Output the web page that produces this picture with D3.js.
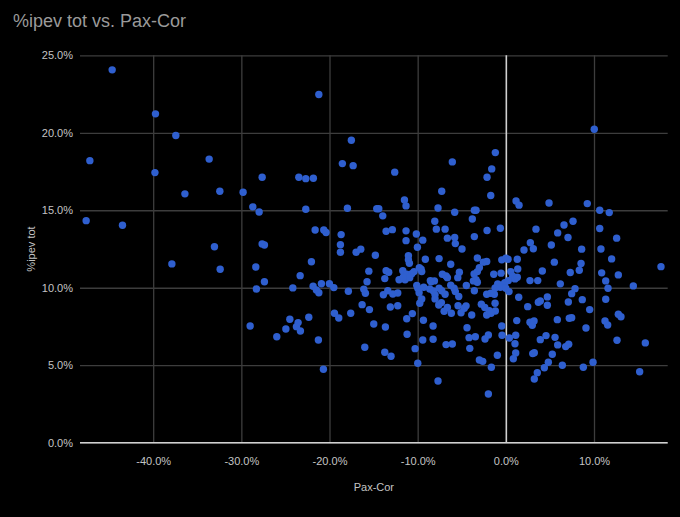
<!DOCTYPE html>
<html>
<head>
<meta charset="utf-8">
<script src="https://cdn.jsdelivr.net/npm/d3@7/dist/d3.min.js"></script>
<style>
html,body{margin:0;padding:0;background:#000;}
svg{display:block;font-family:"Liberation Sans",Arial,sans-serif;}
</style>
</head>
<body>
<svg id="chart" width="680" height="517"></svg>
<script>
const title = "%ipev tot vs. Pax-Cor";
const xTitle = "Pax-Cor";
const yTitle = "%ipev tot";
const xTicks = [-40, -30, -20, -10, 0, 10];
const yTicks = [0, 5, 10, 15, 20, 25];

// Pax-Cor (%) values
const paxCor = [
-44.65,-39.74,-37.43,-47.18,-33.65,-39.8,-27.64,-36.4,-32.44,-29.8,-28.7,-27.98,-47.6,-43.48,-33.05,-27.64,-27.38,-37.88,-32.4,-28.36,-27.38,-28.29,-29.0,-25.98,
-21.21,-17.52,-18.54,-17.32,-6.07,-12.6,-23.48,-22.69,-21.83,-7.27,-11.5,-11.32,-7.69,-5.8,-3.57,-3.38,-22.69,-17.97,-14.64,-14.41,-13.96,-3.8,-8.06,-21.63,-20.65,-20.39,-13.58,-12.87,-11.32,-7.88,-6.89,-10.15,-3.57,-18.68,-6.63,-5.8,-9.42,-11.32,-18.76,-5.73,-10.03,-4.97,-16.45,
10.03,-1.19,-1.6,-2.13,-1.71,1.16,1.5,4.9,9.24,10.65,11.73,7.62,6.6,-2.13,-0.62,3.42,10.65,5.88,7.05,12.57,2.78,5.16,3.12,2.06,8.6,10.79,
-18.76,-16.98,-14.8,-11.05,-11.05,-10.94,-9.13,-7.57,-6.25,-3.23,-22.05,-23.33,-15.54,-13.58,-13.28,-13.73,-15.74,-11.69,-11.24,-10.67,-10.41,-9.81,-9.61,-9.54,-12.11,-11.43,-11.62,-10.9,-8.56,-8.1,-7.2,-6.78,-6.63,-5.45,-5.27,-3.6,-3.23,-3.38,-3.68,
-24.16,-21.86,-21.49,-21.21,-20.92,-20.01,-19.51,-17.86,-16.11,-15.93,-13.89,-13.39,-12.82,-12.26,-10.1,-9.84,-9.99,-9.31,-8.63,-8.48,-8.22,-8.03,-7.57,-7.27,-6.89,-6.25,-5.87,-5.73,-5.34,-4.48,-3.57,-3.23,
-9.54,-9.76,-8.03,-7.61,-7.31,-7.0,-6.63,-6.18,-5.42,-5.08,-4.71,-4.51,-3.87,-16.3,-15.47,-19.44,-18.95,-17.59,-13.1,-12.26,-10.6,-11.24,-9.35,-8.25,-22.35,-24.5,-24.95,-23.56,-23.75,-23.3,-21.26,-14.98,-13.66,-11.2,-9.42,-8.25,-6.78,-6.07,-4.4,-4.17,-3.46,-4.09,-16.0,-13.73,-13.02,-10.29,-9.99,-20.69,-7.69,-3.0,
-2.55,-2.17,-3.0,-0.46,0,0.25,1.3,12.0,17.6,5.5,8.53,8.33,1.35,4.14,7.31,10.87,12.76,-1.37,-0.54,0.56,0.78,1.04,1.3,0.28,-0.12,-0.4,-0.92,-1.22,-0.62,0,0.36,-2.17,-1.71,-1.3,2.74,3.62,6.18,7.85,7.47,11.59,11.33,14.46,1.46,4.71,4.71,3.69,3.91,2.48,7.09,8.67,11.33,9.51,
-2.78,-2.39,-1.87,-1.19,-1.22,-2.17,-1.68,1.24,2.74,3.2,3.0,5.84,7.2,7.47,9.09,11.25,11.55,12.76,13.06,-0.46,-1.98,-2.36,-0.43,0.4,1.12,1.04,3.91,4.56,5.58,5.88,6.79,7.13,12.61,15.82,-0.96,0.85,1.12,3.05,3.23,5.27,4.82,4.37,6.41,8.79,9.89,-2.62,-1.64,3.57,3.23,15.18,-1.98
];

// %ipev tot (%) values
const ipevTot = [
24.06,21.22,19.82,18.2,18.3,17.43,17.13,16.06,16.23,16.16,15.22,14.89,14.33,14.03,12.65,12.83,12.76,11.54,11.19,11.34,10.39,9.92,7.53,6.84,
22.47,19.52,18.01,17.88,18.12,17.46,17.13,17.04,17.07,16.23,15.67,15.28,15.15,14.87,15.0,15.0,15.07,15.13,15.1,15.1,14.64,14.44,14.29,13.73,13.73,13.56,13.65,13.75,13.67,13.78,13.78,13.47,13.3,13.43,13.2,13.24,13.07,13.04,12.78,12.85,12.61,12.5,12.49,
20.23,18.72,17.67,17.13,15.95,15.6,15.33,15.47,15.43,15.0,14.85,14.29,14.05,13.69,13.84,13.78,13.82,13.54,13.24,13.2,12.91,12.76,12.52,12.44,12.49,12.5,
12.29,12.29,12.1,12.07,11.8,11.58,11.84,11.88,11.52,11.92,11.68,10.78,11.07,11.1,11.0,10.59,10.39,11.1,10.87,10.91,11.04,11.3,11.19,11.04,10.52,10.52,10.7,10.65,10.46,10.44,10.87,10.76,10.65,10.65,11.0,10.89,11.04,10.52,10.44,
9.99,10.1,9.86,9.68,10.26,10.26,10.01,9.77,9.9,9.64,9.55,9.81,9.6,9.66,10.14,9.68,9.97,10.03,9.92,10.39,9.79,9.54,9.97,9.81,9.58,10.16,9.97,9.75,9.43,10.14,9.81,10.35,
9.28,9.0,9.28,8.89,9.04,8.48,8.72,8.35,8.84,8.39,8.68,8.83,8.24,8.91,8.59,8.35,8.05,8.35,8.76,8.84,8.33,8.0,7.9,7.53,8.1,7.97,7.34,7.75,7.49,7.21,6.63,7.66,7.47,7.0,6.63,6.68,6.33,6.37,7.42,6.78,6.84,6.09,6.16,5.84,5.58,6.07,5.13,4.74,3.98,5.34,
11.65,11.69,11.3,11.8,11.9,11.84,11.84,11.86,11.36,11.65,11.56,11.13,11.21,11.08,10.98,10.96,10.83,10.87,10.94,11.04,10.74,10.57,10.68,10.46,10.33,10.18,10.24,9.99,10.03,9.97,9.75,9.58,9.64,9.58,10.46,10.46,10.25,9.94,9.62,9.97,10.44,10.12,9.39,9.41,8.87,9.06,9.15,8.78,9.08,9.23,9.26,8.59,
8.94,8.72,8.52,8.5,9.0,8.24,8.35,7.88,7.77,7.86,7.58,7.94,8.03,8.07,7.4,7.86,7.6,8.29,8.13,7.53,6.95,6.69,6.93,6.76,6.93,6.39,6.65,6.91,6.8,6.31,6.2,6.35,6.61,6.44,5.64,5.42,5.79,5.75,5.81,5.71,5.19,4.84,5.0,4.87,5.19,5.25,4.87,4.52,4.11,4.58,3.14
];

const points = paxCor.map((v, i) => ({x: v, y: ipevTot[i]}));

const svg = d3.select("#chart");
const mLeft = 80, mRight = 667.7, mTop = 55.3, mBottom = 442.7;

const x = d3.scaleLinear().domain([-48.3, 18.36]).range([mLeft, mRight]);
const y = d3.scaleLinear().domain([0, 25]).range([mBottom, mTop]);
const fmt = d => d.toFixed(1) + "%";

// horizontal gridlines + y labels
const yAxis = svg.append("g")
  .attr("transform", `translate(${mLeft},0)`)
  .call(d3.axisLeft(y).tickValues(yTicks).tickFormat(fmt).tickSize(-(mRight - mLeft)).tickPadding(7));
yAxis.select(".domain").remove();
yAxis.selectAll(".tick line").attr("stroke", "#3d3d3d").attr("stroke-width", 1.3);
yAxis.selectAll(".tick text").attr("fill", "#c4c4c4").style("font-size", "11px");

// vertical gridlines + x labels
const xAxis = svg.append("g")
  .attr("transform", `translate(0,${mBottom})`)
  .call(d3.axisBottom(x).tickValues(xTicks).tickFormat(fmt).tickSize(-(mBottom - mTop)).tickPadding(15));
xAxis.select(".domain").remove();
xAxis.selectAll(".tick line").attr("stroke", d => d === 0 ? "#d0d0d0" : "#3d3d3d").attr("stroke-width", d => d === 0 ? 1.6 : 1.3);
xAxis.selectAll(".tick text").attr("fill", "#c4c4c4").style("font-size", "11px");

// baseline (0%)
svg.append("line")
  .attr("x1", mLeft).attr("x2", mRight)
  .attr("y1", y(0)).attr("y2", y(0))
  .attr("stroke", "#d0d0d0").attr("stroke-width", 1.6);

// points
svg.append("g").selectAll("circle")
  .data(points).enter().append("circle")
  .attr("cx", d => x(d.x))
  .attr("cy", d => y(d.y))
  .attr("r", 3.7)
  .attr("fill", "#2f5fcf");

// titles
svg.append("text")
  .attr("x", 13).attr("y", 27)
  .attr("fill", "#9a9a9a")
  .style("font-size", "18px")
  .text(title);

svg.append("text")
  .attr("x", (mLeft + mRight) / 2).attr("y", 491)
  .attr("text-anchor", "middle")
  .attr("fill", "#c4c4c4")
  .style("font-size", "11px")
  .text(xTitle);

svg.append("text")
  .attr("transform", `translate(35,${(mTop + mBottom) / 2}) rotate(-90)`)
  .attr("text-anchor", "middle")
  .attr("fill", "#c4c4c4")
  .style("font-size", "11px")
  .text(yTitle);
</script>
</body>
</html>
